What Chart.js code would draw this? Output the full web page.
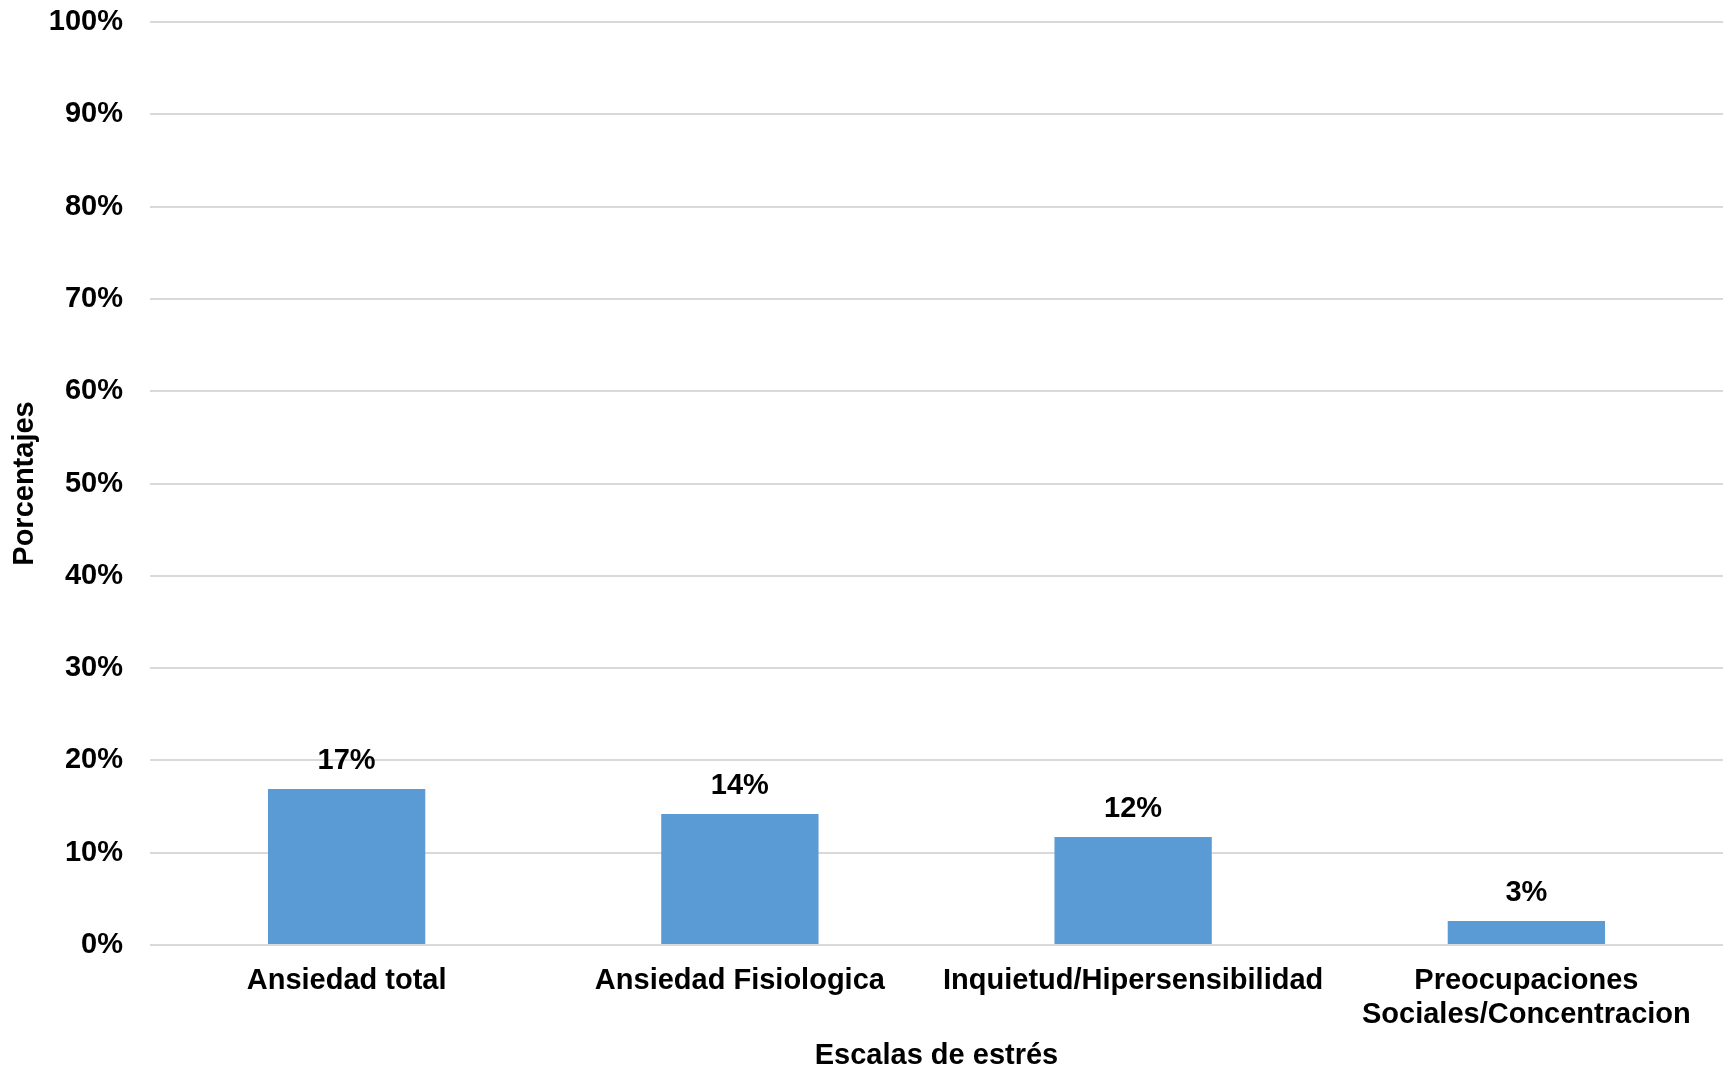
<!DOCTYPE html>
<html>
<head>
<meta charset="utf-8">
<script src="https://cdn.jsdelivr.net/npm/chart.js@4.4.1/dist/chart.umd.min.js"></script>
<style>
  html, body { margin: 0; padding: 0; background: #fff; }
  #wrap { width: 1729px; height: 1070px; position: relative; }
</style>
</head>
<body>
<div id="wrap"><canvas id="chart"></canvas></div>
<script>
// Scales of stress and share of participants in each
const categories = [
  "Ansiedad total",
  "Ansiedad Fisiologica",
  "Inquietud/Hipersensibilidad",
  ["Preocupaciones", "Sociales/Concentracion"],
];
const percentages = [16.9, 14.2, 11.7, 2.6];
const yTicks = [0, 10, 20, 30, 40, 50, 60, 70, 80, 90, 100];

const FONT = "'Liberation Sans', Arial, sans-serif";
const FONT_SIZE = 29;
const BAR_COLOR = "#5B9BD5";

// value labels above each bar
const valueLabels = {
  id: "valueLabels",
  afterDatasetsDraw(chart) {
    const { ctx } = chart;
    const meta = chart.getDatasetMeta(0);
    ctx.save();
    ctx.font = `bold ${FONT_SIZE}px ${FONT}`;
    ctx.fillStyle = "#000";
    ctx.textAlign = "center";
    ctx.textBaseline = "middle";
    meta.data.forEach((bar, i) => {
      ctx.fillText(Math.round(percentages[i]) + "%", bar.x, bar.y - 28);
    });
    ctx.restore();
  },
};

const ctx = document.getElementById("chart").getContext("2d");
new Chart(ctx, {
  type: "bar",
  data: {
    labels: categories,
    datasets: [
      {
        data: percentages,
        backgroundColor: BAR_COLOR,
        borderWidth: 0,
        categoryPercentage: 1,
        barPercentage: 0.4,
      },
    ],
  },
  options: {
    responsive: true,
    maintainAspectRatio: false,
    animation: false,
    layout: { padding: { left: 8, right: 6, top: 22, bottom: -3 } },
    plugins: {
      legend: { display: false },
      tooltip: { enabled: false },
    },
    scales: {
      x: {
        grid: { display: false, drawTicks: false },
        border: { display: false },
        afterFit(axis) {
          axis.height = 128;
        },
        ticks: {
          color: "#000",
          font: { family: FONT, size: FONT_SIZE, weight: "bold", lineHeight: 1.17 },
          padding: 19,
          maxRotation: 0,
          autoSkip: false,
        },
        title: {
          display: true,
          text: "Escalas de estrés",
          color: "#000",
          font: { family: FONT, size: FONT_SIZE, weight: "bold", lineHeight: 1.17 },
          padding: { top: 0, bottom: 0 },
        },
      },
      y: {
        min: 0,
        max: 100,
        afterBuildTicks(axis) {
          axis.ticks = yTicks.map((v) => ({ value: v }));
        },
        afterFit(axis) {
          axis.width = 142;
        },
        grid: {
          color: "#D9D9D9",
          lineWidth: 2,
          drawTicks: true,
          tickLength: 27,
          tickColor: "rgba(0,0,0,0)",
        },
        border: { display: false },
        ticks: {
          color: "#000",
          font: { family: FONT, size: FONT_SIZE, weight: "bold" },
          padding: 0,
          callback: (v) => v + "%",
        },
        title: {
          display: true,
          text: "Porcentajes",
          color: "#000",
          font: { family: FONT, size: FONT_SIZE, weight: "bold", lineHeight: 1.17 },
          padding: { top: 0, bottom: 10 },
        },
      },
    },
  },
  plugins: [valueLabels],
});
</script>
</body>
</html>
